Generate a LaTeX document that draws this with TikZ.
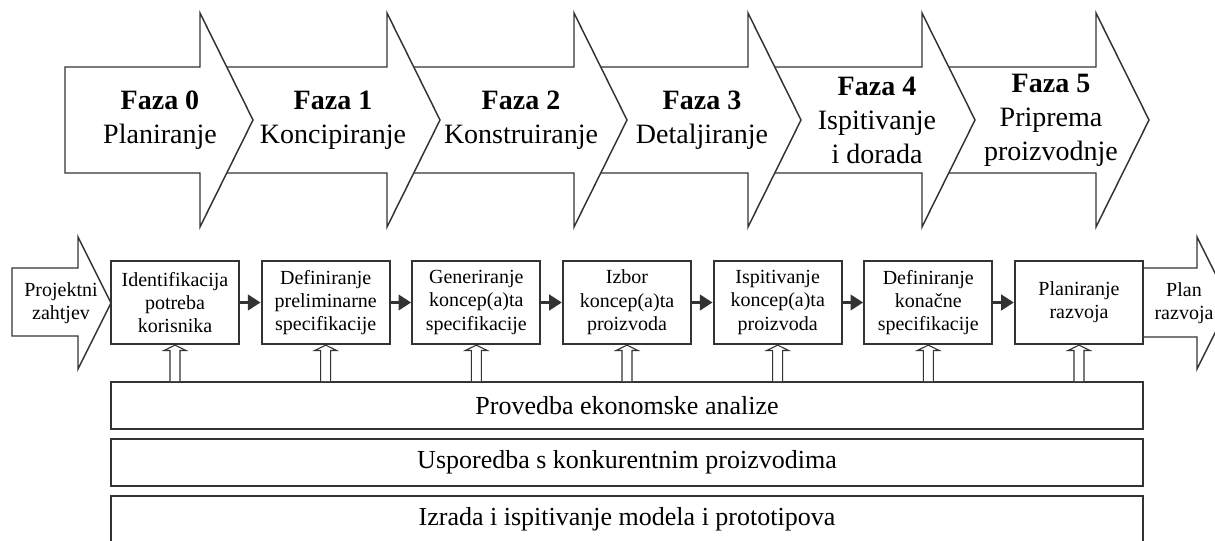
\documentclass[tikz,border=0pt]{standalone}
\usepackage{fontspec}
\setmainfont{Liberation Serif}
\usetikzlibrary{arrows.meta}
\definecolor{crta}{HTML}{333333}

\tikzset{
 faza/.style={align=center,font=\fontsize{21}{25.5}\selectfont},
 korak/.style={draw=crta,fill=white,line width=1.7pt,align=center,minimum width=96pt,minimum height=62.25pt,inner sep=0pt,font=\fontsize{15}{17.5}\selectfont},
 traka/.style={draw=crta,fill=white,line width=1.5pt,minimum width=774pt,minimum height=35.25pt,inner sep=0pt,font=\fontsize{19.5}{23}\selectfont},
 tok/.style={draw=crta,line width=2.3pt,-{Triangle[length=9.5pt,width=11.5pt]}},
 podrska/.style={draw=crta,fill=white,line width=0.8pt,line join=miter},
 strelica/.style={draw=crta,fill=white,line width=1.1pt,line join=miter},
 ulaz/.style={align=center,font=\fontsize{15}{17.5}\selectfont}
}
% suplja strelica od trake do koraka
\newcommand{\podrska}[1]{\path[podrska] ([xshift=-3.75pt]t1.north -| #1) -- ([xshift=-3.75pt,yshift=-4pt]#1.south) -- ([xshift=-8.25pt,yshift=-4pt]#1.south) -- (#1.south) -- ([xshift=8.25pt,yshift=-4pt]#1.south) -- ([xshift=3.75pt,yshift=-4pt]#1.south) -- ([xshift=3.75pt]t1.north -| #1);}

\begin{document}
\begin{tikzpicture}[x=0.75pt,y=-0.75pt]
\clip (0,0) rectangle (1215,540);
\fill[white] (0,0) rectangle (1215,540);
% faze, od zadnje prema prvoj
\path[strelica] (922,67) -- (1096,67) -- (1096,13) -- (1149,120) -- (1096,227) -- (1096,173) -- (922,173) -- cycle;
\path[strelica] (748,67) -- (922,67) -- (922,13) -- (975,120) -- (922,227) -- (922,173) -- (748,173) -- cycle;
\path[strelica] (574,67) -- (748,67) -- (748,13) -- (801,120) -- (748,227) -- (748,173) -- (574,173) -- cycle;
\path[strelica] (387,67) -- (574,67) -- (574,13) -- (627,120) -- (574,227) -- (574,173) -- (387,173) -- cycle;
\path[strelica] (200,67) -- (387,67) -- (387,13) -- (440,120) -- (387,227) -- (387,173) -- (200,173) -- cycle;
\path[strelica] (65,67) -- (200,67) -- (200,13) -- (253,120) -- (200,227) -- (200,173) -- (65,173) -- cycle;
\node[faza] (f0) at (160,120) {\textbf{Faza 0}\\Planiranje};
\node[faza] (f1) at (333,120) {\textbf{Faza 1}\\Koncipiranje};
\node[faza] (f2) at (521,120) {\textbf{Faza 2}\\Konstruiranje};
\node[faza] (f3) at (702,120) {\textbf{Faza 3}\\Detaljiranje};
\node[faza] (f4) at (877,120) {\textbf{Faza 4}\\Ispitivanje\\i dorada};
\node[faza] (f5) at (1051,120) {\textbf{Faza 5}\\Priprema\\proizvodnje};
% ulaz i izlaz
\path[strelica] (12,268) -- (78,268) -- (78,237) -- (111,303) -- (78,369) -- (78,336) -- (12,336) -- cycle;
\path[strelica] (1143,268) -- (1197,268) -- (1197,237) -- (1230,303) -- (1197,369) -- (1197,337) -- (1143,337) -- cycle;
\node[ulaz] (ul) at (61,303) {Projektni\\zahtjev};
\node[ulaz] (iz) at (1184,303) {Plan\\razvoja};
% koraci
\node[korak] (b1) at (175,302.5) {Identifikacija\\potreba\\korisnika};
\node[korak] (b2) at (325.7,302.5) {Definiranje\\preliminarne\\specifikacije};
\node[korak] (b3) at (476.3,302.5) {Generiranje\\koncep(a)ta\\specifikacije};
\node[korak] (b4) at (627,302.5) {Izbor\\koncep(a)ta\\proizvoda};
\node[korak] (b5) at (777.7,302.5) {Ispitivanje\\koncep(a)ta\\proizvoda};
\node[korak] (b6) at (928.3,302.5) {Definiranje\\konačne\\specifikacije};
\node[korak] (b7) at (1079,302.5) {Planiranje\\razvoja};
% aktivnosti
\node[traka] (t1) at (627,405.5) {Provedba ekonomske analize};
\node[traka] (t2) at (627,462.5) {Usporedba s konkurentnim proizvodima};
\node[traka] (t3) at (627,519.5) {Izrada i ispitivanje modela i prototipova};
\path[tok] (b1) -- (b2);
\path[tok] (b2) -- (b3);
\path[tok] (b3) -- (b4);
\path[tok] (b4) -- (b5);
\path[tok] (b5) -- (b6);
\path[tok] (b6) -- (b7);
\podrska{b1}
\podrska{b2}
\podrska{b3}
\podrska{b4}
\podrska{b5}
\podrska{b6}
\podrska{b7}
\end{tikzpicture}
\end{document}
